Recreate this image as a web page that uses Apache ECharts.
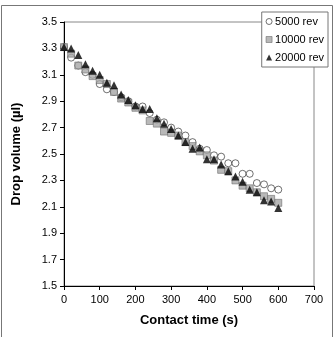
<!DOCTYPE html>
<html>
<head>
<meta charset="utf-8">
<script src="https://cdn.jsdelivr.net/npm/echarts@6/dist/echarts.min.js"></script>
<style>
  html, body { margin: 0; padding: 0; background: #fff; }
  #chart { width: 335px; height: 337px; }
</style>
</head>
<body>
<div id="chart"></div>
<script>
var times = [0, 20, 40, 60, 80, 100, 120, 140, 160, 180, 200, 220, 240, 260, 280, 300,
  320, 340, 360, 380, 400, 420, 440, 460, 480, 500, 520, 540, 560, 580, 600];
var rev5000 = [3.31, 3.23, 3.17, 3.12, 3.10, 3.03, 2.99, 2.97, 2.93, 2.90, 2.86, 2.86, 2.81, 2.76, 2.74, 2.70,
  2.67, 2.64, 2.59, 2.54, 2.53, 2.49, 2.48, 2.43, 2.43, 2.35, 2.35, 2.28, 2.27, 2.24, 2.23];
var rev10000 = [3.31, 3.26, 3.17, 3.14, 3.09, 3.06, 3.03, 2.97, 2.92, 2.89, 2.85, 2.83, 2.75, 2.73, 2.67, 2.66,
  2.64, 2.59, 2.56, 2.52, 2.49, 2.45, 2.38, 2.37, 2.30, 2.26, 2.24, 2.21, 2.18, 2.16, 2.13];
var rev20000 = [3.31, 3.30, 3.25, 3.18, 3.13, 3.10, 3.04, 3.02, 2.95, 2.91, 2.87, 2.84, 2.84, 2.77, 2.73, 2.69,
  2.64, 2.59, 2.54, 2.55, 2.46, 2.46, 2.42, 2.37, 2.33, 2.29, 2.23, 2.21, 2.15, 2.14, 2.09];
var seriesNames = ['5000 rev', '10000 rev', '20000 rev'];

function pairs(ys) {
  return times.map(function(t, i) { return [t, ys[i]]; });
}

var font = 'Liberation Sans, Arial, sans-serif';
var chart = echarts.init(document.getElementById('chart'), null, { renderer: 'canvas' });
chart.setOption({
  animation: false,
  backgroundColor: '#fff',
  textStyle: { fontFamily: font },
  graphic: [{
    type: 'rect',
    shape: { x: 1.5, y: 5.5, width: 331, height: 340 },
    style: { fill: 'none', stroke: '#777', lineWidth: 1 },
    z: 0
  }],
  grid: { left: 64, right: 21, top: 22, bottom: 51, show: true, borderColor: '#888', borderWidth: 1 },
  legend: {
    right: 7, top: 12, orient: 'vertical',
    data: [
      { name: seriesNames[0], icon: 'circle' },
      { name: seriesNames[1], icon: 'rect' },
      { name: seriesNames[2], icon: 'triangle' }
    ],
    itemWidth: 6, itemHeight: 6, itemGap: 7,
    padding: [4, 4, 4, 4],
    itemStyle: { borderWidth: 0.7 },
    backgroundColor: '#fff', borderColor: '#777', borderWidth: 1,
    textStyle: { fontSize: 11, color: '#000', padding: [0, 0, 0, -2] }
  },
  xAxis: {
    type: 'value', min: 0, max: 700, interval: 100,
    name: 'Contact time (s)', nameLocation: 'middle', nameGap: 28,
    nameTextStyle: { fontSize: 13, fontWeight: 'bold', color: '#000' },
    axisLine: { lineStyle: { color: '#000' } },
    axisTick: { length: 4, lineStyle: { color: '#000' } },
    axisLabel: { fontSize: 11, color: '#000', margin: 8 },
    splitLine: { show: false }
  },
  yAxis: {
    type: 'value', min: 1.5, max: 3.5, interval: 0.2,
    name: 'Drop volume (\u00b5l)', nameLocation: 'middle', nameGap: 41,
    nameTextStyle: { fontSize: 13, fontWeight: 'bold', color: '#000' },
    axisLine: { show: true, lineStyle: { color: '#000' } },
    axisTick: { show: true, length: 4, lineStyle: { color: '#000' } },
    axisLabel: { fontSize: 11, color: '#000', margin: 7, formatter: function(v) { return v.toFixed(1); } },
    splitLine: { show: false }
  },
  series: [{
    name: seriesNames[0], type: 'scatter', data: pairs(rev5000),
    symbol: 'circle', symbolSize: 7,
    itemStyle: { color: '#fff', borderColor: '#000', borderWidth: 0.7 }
  }, {
    name: seriesNames[1], type: 'scatter', data: pairs(rev10000),
    symbol: 'rect', symbolSize: 7,
    itemStyle: { color: '#a6a6a6', borderColor: '#666', borderWidth: 0.7 }
  }, {
    name: seriesNames[2], type: 'scatter', data: pairs(rev20000),
    symbol: 'triangle', symbolSize: 8,
    itemStyle: { color: '#000', borderWidth: 0 }
  }]
});
</script>
</body>
</html>
